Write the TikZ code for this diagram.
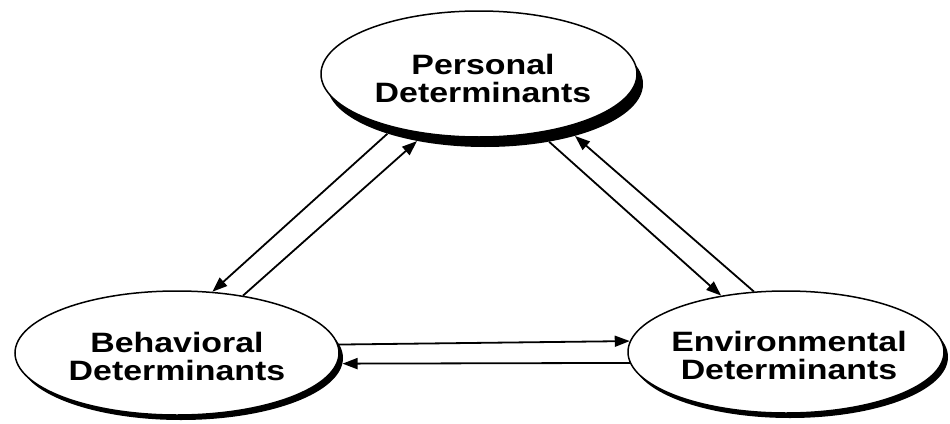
\documentclass[tikz,border=0pt]{standalone}
\usepackage{fontspec}
\newfontfamily\detfont[FakeStretch=1.21]{Liberation Sans}
\usetikzlibrary{shapes.geometric,arrows.meta}

\tikzset{
  determinant/.style={ellipse, draw, fill=white, line width=1.5pt, inner sep=0pt},
  detlabel/.style={inner sep=0pt, align=center,
    font=\detfont\bfseries\fontsize{28}{28}\selectfont},
  castshadow/.style={ellipse, fill=black, draw=none, inner sep=0pt},
  link/.style={line width=1.8pt, -{Triangle[length=15pt,width=11pt]}}
}

\begin{document}
\begin{tikzpicture}[x=1pt,y=-1pt]
  \useasboundingbox (0,0) rectangle (950,423);

  % shadows cast down and to the right
  \node[castshadow, minimum width=316pt, minimum height=126pt] (Pshadow) at (485,84) {};
  \node[castshadow, minimum width=324pt, minimum height=124pt] (Bshadow) at (181,358) {};
  \node[castshadow, minimum width=316pt, minimum height=122pt] (Eshadow) at (790,357) {};

  % the three determinants
  \node[determinant, minimum width=316pt, minimum height=126pt] (P) at (479,74) {};
  \node[determinant, minimum width=324pt, minimum height=124pt] (B) at (177,353) {};
  \node[determinant, minimum width=316pt, minimum height=122pt] (E) at (786,352) {};

  \node[detlabel] (Plabel) at ([xshift=4pt,yshift=-4pt]P.center) {Personal\\Determinants};
  \node[detlabel] (Blabel) at ([xshift=0pt,yshift=-3pt]B.center) {Behavioral\\Determinants};
  \node[detlabel] (Elabel) at ([xshift=3pt,yshift=-3pt]E.center) {Environmental\\Determinants};

  % reciprocal influences
  \draw[link] (Pshadow.207.7) -- (B.60.9);
  \draw[link] (B.41.4) -- (Pshadow.220.1);
  \draw[link] (Pshadow.318.6) -- (E.139.2);
  \draw[link] (E.118.0) -- (Pshadow.330.9);
  \draw[link] (B.3.6) -- (E.176.8);
  \draw[link] (E.184.0) -- (Bshadow.358.2);
\end{tikzpicture}
\end{document}
